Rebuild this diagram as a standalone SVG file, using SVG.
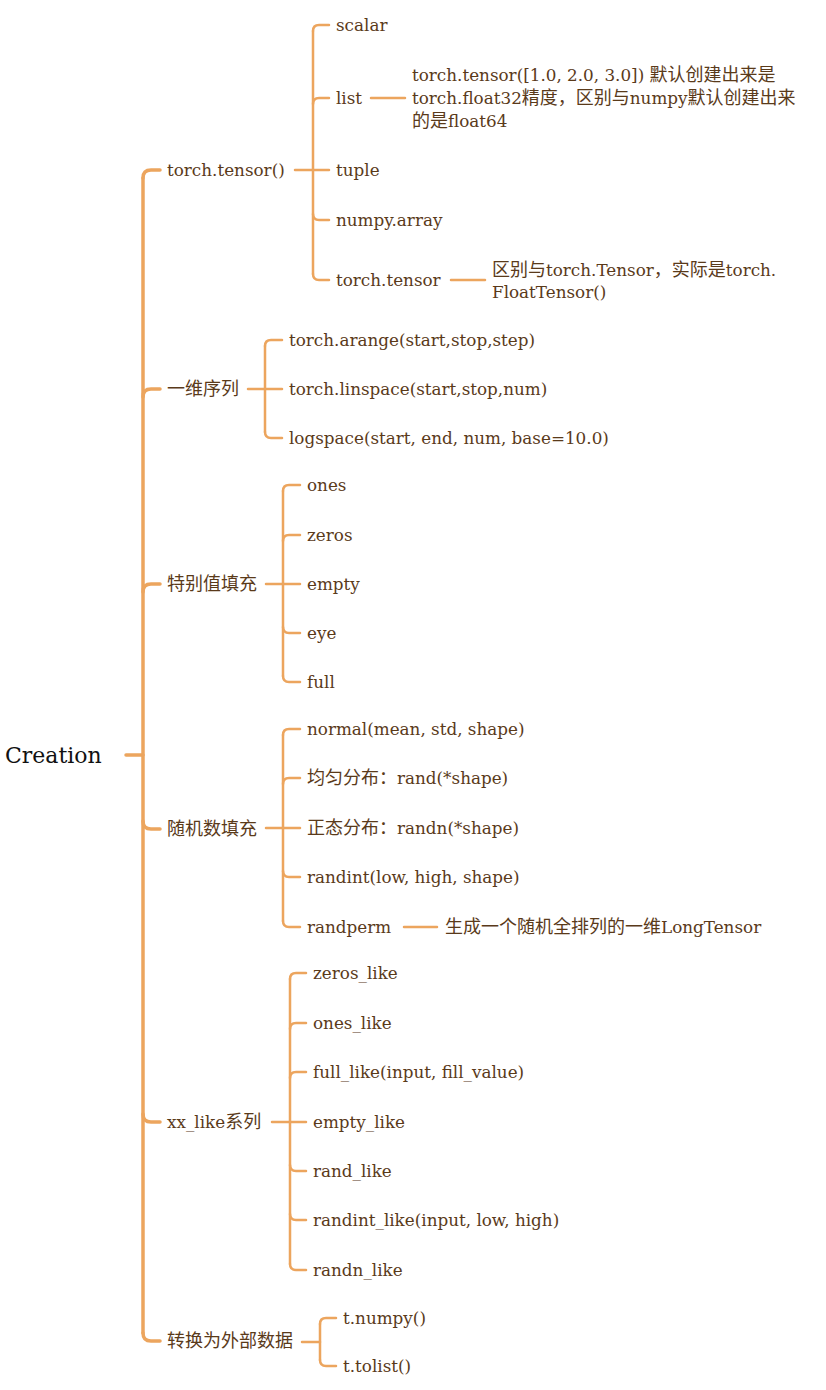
<svg xmlns="http://www.w3.org/2000/svg" width="826" height="1390" viewBox="0 0 826 1390">
<style>
.t{font-family:"DejaVu Serif","Noto Sans CJK SC",serif;font-size:16.8px;fill:#5a3a1a}
.c{font-family:"Noto Sans CJK SC",sans-serif;font-size:18px}
.root{font-family:"DejaVu Serif",serif;font-size:22px;fill:#111}
.m{fill:none;stroke:#eca55e;stroke-width:3.5;stroke-linecap:round}
.s{fill:none;stroke:#eca55e;stroke-width:2.5;stroke-linecap:round}
</style>
<rect width="826" height="1390" fill="#fff"/>
<g id="connectors">
<path class="m" d="M126,755 H143"/>
<path class="m" d="M143,178 V1333"/>
<path class="m" d="M143,178 Q143,170 151,170 H160"/>
<path class="m" d="M143,397 Q143,389 151,389 H160"/>
<path class="m" d="M143,592 Q143,584 151,584 H160"/>
<path class="m" d="M143,821 Q143,829 151,829 H160"/>
<path class="m" d="M143,1114 Q143,1122 151,1122 H160"/>
<path class="m" d="M143,1333 Q143,1341 151,1341 H160"/>
<path class="s" d="M295,170 H329"/>
<path class="s" d="M313,31 V274"/>
<path class="s" d="M313,31 Q313,25 319,25 H329"/>
<path class="s" d="M313,104 Q313,98 319,98 H329"/>
<path class="s" d="M313,214 Q313,220 319,220 H329"/>
<path class="s" d="M313,274 Q313,280 319,280 H329"/>
<path class="s" d="M371,98 H405"/>
<path class="s" d="M451,280 H485"/>
<path class="s" d="M248,389 H282"/>
<path class="s" d="M265,346 V432"/>
<path class="s" d="M265,346 Q265,340 271,340 H282"/>
<path class="s" d="M265,432 Q265,438 271,438 H282"/>
<path class="s" d="M266,584 H300"/>
<path class="s" d="M283,491 V676"/>
<path class="s" d="M283,491 Q283,485 289,485 H300"/>
<path class="s" d="M283,541 Q283,535 289,535 H300"/>
<path class="s" d="M283,627 Q283,633 289,633 H300"/>
<path class="s" d="M283,676 Q283,682 289,682 H300"/>
<path class="s" d="M266,828 H300"/>
<path class="s" d="M283,735 V921"/>
<path class="s" d="M283,735 Q283,729 289,729 H300"/>
<path class="s" d="M283,784 Q283,778 289,778 H300"/>
<path class="s" d="M283,871 Q283,877 289,877 H300"/>
<path class="s" d="M283,921 Q283,927 289,927 H300"/>
<path class="s" d="M404,927 H437"/>
<path class="s" d="M272,1122 H306"/>
<path class="s" d="M290,979 V1264"/>
<path class="s" d="M290,979 Q290,973 296,973 H306"/>
<path class="s" d="M290,1029 Q290,1023 296,1023 H306"/>
<path class="s" d="M290,1078 Q290,1072 296,1072 H306"/>
<path class="s" d="M290,1165 Q290,1171 296,1171 H306"/>
<path class="s" d="M290,1214 Q290,1220 296,1220 H306"/>
<path class="s" d="M290,1264 Q290,1270 296,1270 H306"/>
<path class="s" d="M302,1342 H320"/>
<path class="s" d="M320,1324 V1360"/>
<path class="s" d="M320,1324 Q320,1318 326,1318 H336"/>
<path class="s" d="M320,1360 Q320,1366 326,1366 H336"/>
</g>
<g id="root"><text class="root" x="5" y="763">Creation</text></g>
<g id="n-tensor">
<text class="t" x="167" y="176">torch.tensor()</text>
<text class="t" x="336" y="31">scalar</text>
<text class="t" x="336" y="104">list</text>
<text class="t" x="336" y="176">tuple</text>
<text class="t" x="336" y="226">numpy.array</text>
<text class="t" x="336" y="286">torch.tensor</text>
</g>
<g id="note-list">
<text class="t" x="412" y="81">torch.tensor([1.0, 2.0, 3.0]) <tspan class="c">默认创建出来是</tspan></text>
<text class="t" x="412" y="104">torch.float32<tspan class="c">精度，区别与</tspan>numpy<tspan class="c">默认创建出来</tspan></text>
<text class="t" x="412" y="127"><tspan class="c">的是</tspan>float64</text>
</g>
<g id="note-tensor">
<text class="t" x="492" y="276"><tspan class="c">区别与</tspan>torch.Tensor<tspan class="c">，实际是</tspan>torch.</text>
<text class="t" x="492" y="298">FloatTensor()</text>
</g>
<g id="n-seq">
<text class="t c" x="167" y="395">一维序列</text>
<text class="t" x="289" y="346">torch.arange(start,stop,step)</text>
<text class="t" x="289" y="395">torch.linspace(start,stop,num)</text>
<text class="t" x="289" y="444">logspace(start, end, num, base=10.0)</text>
</g>
<g id="n-fill">
<text class="t c" x="167" y="590">特别值填充</text>
<text class="t" x="307" y="491">ones</text>
<text class="t" x="307" y="541">zeros</text>
<text class="t" x="307" y="590">empty</text>
<text class="t" x="307" y="639">eye</text>
<text class="t" x="307" y="688">full</text>
</g>
<g id="n-rand">
<text class="t c" x="167" y="835">随机数填充</text>
<text class="t" x="307" y="735">normal(mean, std, shape)</text>
<text class="t" x="307" y="784"><tspan class="c">均匀分布：</tspan>rand(*shape)</text>
<text class="t" x="307" y="834"><tspan class="c">正态分布：</tspan>randn(*shape)</text>
<text class="t" x="307" y="883">randint(low, high, shape)</text>
<text class="t" x="307" y="933">randperm</text>
<text class="t" x="445" y="933"><tspan class="c">生成一个随机全排列的一维</tspan>LongTensor</text>
</g>
<g id="n-like">
<text class="t" x="167" y="1128">xx_like<tspan class="c">系列</tspan></text>
<text class="t" x="313" y="979">zeros_like</text>
<text class="t" x="313" y="1029">ones_like</text>
<text class="t" x="313" y="1078">full_like(input, fill_value)</text>
<text class="t" x="313" y="1128">empty_like</text>
<text class="t" x="313" y="1177">rand_like</text>
<text class="t" x="313" y="1226">randint_like(input, low, high)</text>
<text class="t" x="313" y="1276">randn_like</text>
</g>
<g id="n-export">
<text class="t c" x="167" y="1347">转换为外部数据</text>
<text class="t" x="343" y="1324">t.numpy()</text>
<text class="t" x="343" y="1372">t.tolist()</text>
</g>
</svg>
